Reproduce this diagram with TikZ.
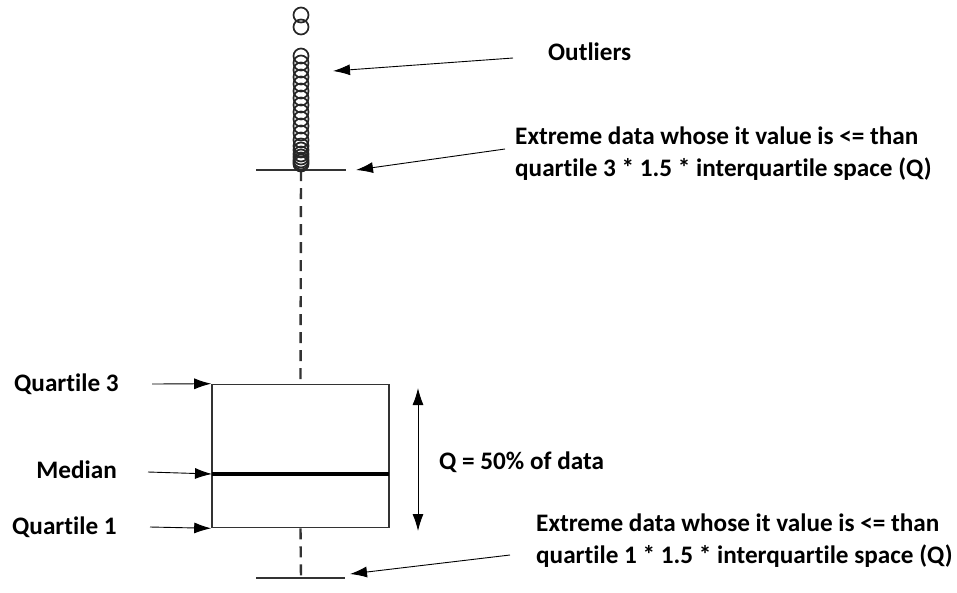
\documentclass[tikz,border=0pt]{standalone}
\usepackage{fontspec}
\setmainfont{Carlito}[Ligatures=NoCommon]
\usetikzlibrary{arrows.meta}
\tikzset{
  lbl/.style={font=\fontsize{25.2}{32}\selectfont\bfseries, inner sep=0pt},
  ptr/.style={-{Latex[length=17pt,width=11pt]}, line width=0.9pt},
  outl/.style={circle, draw=black!85, line width=1.7pt, minimum size=15pt, inner sep=0pt},
  whisk/.style={line width=2.4pt, draw=black!80, dash pattern=on 11pt off 7pt},
  capline/.style={line width=1.6pt, draw=black!80},
}
\begin{document}
\begin{tikzpicture}[x=1pt,y=-1pt]
\useasboundingbox (0,0) rectangle (957,592);
% box
\node[draw=black!80, line width=1.6pt, minimum width=177pt, minimum height=143pt, inner sep=0pt] (box) at (300.5,456) {};
\coordinate (medl) at (212,474);
\coordinate (medr) at (389,474);
\draw[line width=4.5pt] (medl) -- (medr);
% whiskers
\coordinate (uw) at (301,170);
\coordinate (lw) at (301,578);
\draw[whisk] (uw) -- (box.north);
\draw[whisk] (box.south) -- (lw);
\coordinate (ucl) at (256,170);
\coordinate (ucr) at (346,170);
\coordinate (lcl) at (256,578);
\coordinate (lcr) at (345,578);
\draw[capline] (ucl) -- (ucr);
\draw[capline] (lcl) -- (lcr);
% outliers
\foreach \y [count=\i] in {15,27,56,63,70,77,84,91,98,105,112,119,126,133,140,146,150,154,157,160,162,164}
  \node[outl] (o\i) at (301,\y) {};
% labels
\node[lbl, anchor=west] (outlbl) at (548,52) {Outliers};
\node[lbl, anchor=west, align=left] (xup) at (515,154) {Extreme data whose it value is <= than\\quartile 3 * 1.5 * interquartile space (Q)};
\node[lbl, anchor=west, align=left] (xlo) at (536,541) {Extreme data whose it value is <= than\\quartile 1 * 1.5 * interquartile space (Q)};
\node[lbl, anchor=west] (q3) at (14,384) {Quartile 3};
\node[lbl, anchor=east] (med) at (117,470) {Median};
\node[lbl, anchor=west] (q1) at (12,527) {Quartile 1};
\node[lbl, anchor=west] (qlbl) at (439,462) {Q = 50\% of data};
% arrows
\coordinate (a1) at (513,58);
\coordinate (b1) at (333,71);
\coordinate (a2) at (505,149);
\coordinate (b2) at (356,170);
\coordinate (a3) at (510,555);
\coordinate (b3) at (350,574);
\coordinate (a4) at (152,384);
\coordinate (a5) at (148,472);
\coordinate (a6) at (150,527);
\coordinate (dt) at (418,388);
\coordinate (db) at (418,531);
\draw[ptr] (a1) -- (b1);
\draw[ptr] (a2) -- (b2);
\draw[ptr] (a3) -- (b3);
\draw[ptr] (a4) -- (box.north west);
\draw[ptr] (a5) -- (medl);
\draw[ptr] (a6) -- (box.south west);
\draw[{Latex[length=17pt,width=11pt]}-{Latex[length=17pt,width=11pt]}, line width=0.9pt] (dt) -- (db);
\end{tikzpicture}
\end{document}
